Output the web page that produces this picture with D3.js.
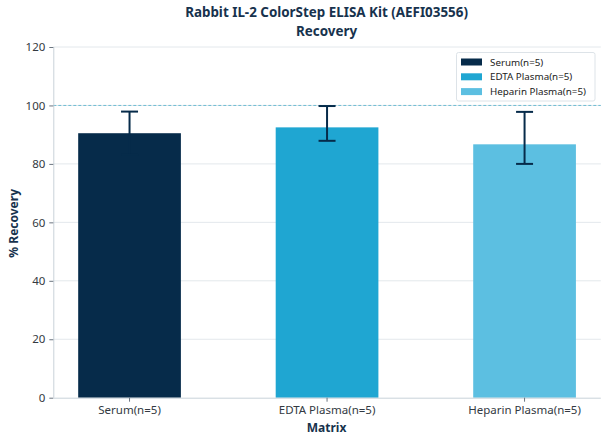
<!DOCTYPE html>
<html><head><meta charset="utf-8">
<script src="https://cdn.jsdelivr.net/npm/d3@7"></script>
<style>body{margin:0;background:#fff}svg{display:block;font-family:"Noto Sans",sans-serif}</style>
</head><body><svg id="c" width="608" height="444"></svg>
<script>
const categories = ["Serum(n=5)", "EDTA Plasma(n=5)", "Heparin Plasma(n=5)"];
const recovery = [90.5, 92.5, 86.7];
const errLow = [83.1, 87.9, 80.0];
const errHigh = [97.9, 99.8, 97.8];
const colors = ["#062b4a", "#1fa6d2", "#5cbfe1"];
const yTicks = [0, 20, 40, 60, 80, 100, 120];
const titleLines = ["Rabbit IL-2 ColorStep ELISA Kit (AEFI03556)", "Recovery"];

const svg = d3.select("#c");
const L = 53.3, R = 600.8, T = 47, B = 397.7;
const x = d3.scaleBand().domain(categories).range([L, R]).paddingInner(0.48).paddingOuter(0.126);
const y = d3.scaleLinear().domain([0, 120]).range([B, T]);

// grid
svg.append("g").selectAll("line").data(yTicks.filter(d => d > 0)).join("line")
  .attr("x1", L).attr("x2", R).attr("y1", d => y(d)).attr("y2", d => y(d))
  .attr("stroke", "#e3e8ec").attr("stroke-width", 1);

// bars
svg.append("g").selectAll("rect").data(categories).join("rect")
  .attr("x", d => x(d)).attr("width", x.bandwidth())
  .attr("y", (d, i) => y(recovery[i])).attr("height", (d, i) => B - y(recovery[i]))
  .attr("fill", (d, i) => colors[i]);

// reference line
svg.append("line").attr("x1", L).attr("x2", R).attr("y1", y(100)).attr("y2", y(100))
  .attr("stroke", "#6fbdd3").attr("stroke-width", 1).attr("stroke-dasharray", "3,2");

// error bars
const eb = svg.append("g").attr("stroke", "#062b4a").attr("stroke-width", 2);
categories.forEach((c, i) => {
  const cx = x(c) + x.bandwidth() / 2;
  eb.append("line").attr("x1", cx).attr("x2", cx).attr("y1", y(errLow[i])).attr("y2", y(errHigh[i]));
  eb.append("line").attr("x1", cx - 8.5).attr("x2", cx + 8.5).attr("y1", y(errLow[i])).attr("y2", y(errLow[i]));
  eb.append("line").attr("x1", cx - 8.5).attr("x2", cx + 8.5).attr("y1", y(errHigh[i])).attr("y2", y(errHigh[i]));
});

// axes
const ya = svg.append("g").attr("transform", `translate(${L},0)`)
  .call(d3.axisLeft(y).tickValues(yTicks).tickSize(4).tickPadding(4));
const xa = svg.append("g").attr("transform", `translate(0,${B})`)
  .call(d3.axisBottom(x).tickSize(4).tickPadding(4));
[ya, xa].forEach(a => {
  a.select(".domain").attr("stroke", "#c9d2d9");
  a.selectAll(".tick line").attr("stroke", "#6b7580");
  a.selectAll(".tick text").attr("fill", "#333a42").attr("font-size", 11.5).attr("font-family", "Noto Sans");
});
xa.select(".domain").attr("d", `M${L},0.5H${R}`);
ya.select(".domain").attr("d", `M0.5,${B}V${T}`);

// titles
const tc = "#17324d";
const cxMid = (L + R) / 2 - 0.5;
const tt = svg.append("text").attr("text-anchor", "middle")
  .attr("font-size", 13.4).attr("font-weight", "bold").attr("fill", tc);
titleLines.forEach((t, i) => tt.append("tspan").attr("x", cxMid).attr("y", 17.3 + i * 18.4).text(t));
svg.append("text").attr("x", cxMid).attr("y", 432).attr("text-anchor", "middle")
  .attr("font-size", 12).attr("font-weight", "bold").attr("fill", tc).text("Matrix");
svg.append("text").attr("transform", `translate(18,${(T + B) / 2 + 1}) rotate(-90)`).attr("text-anchor", "middle")
  .attr("font-size", 12).attr("font-weight", "bold").attr("fill", tc).text("% Recovery");

// legend
const lg = svg.append("g").attr("transform", "translate(456.5,52.5)");
lg.append("rect").attr("width", 138.5).attr("height", 48.5).attr("rx", 2)
  .attr("fill", "#fff").attr("fill-opacity", 0.85).attr("stroke", "#dde3e8");
categories.forEach((c, i) => {
  const yy = 9.5 + i * 14.8;
  lg.append("rect").attr("x", 4.5).attr("y", yy - 3.5).attr("width", 21).attr("height", 7).attr("fill", colors[i]);
  lg.append("text").attr("x", 33.5).attr("y", yy + 3.5).attr("font-size", 9.8).attr("fill", "#222").text(c);
});
</script></body></html>
